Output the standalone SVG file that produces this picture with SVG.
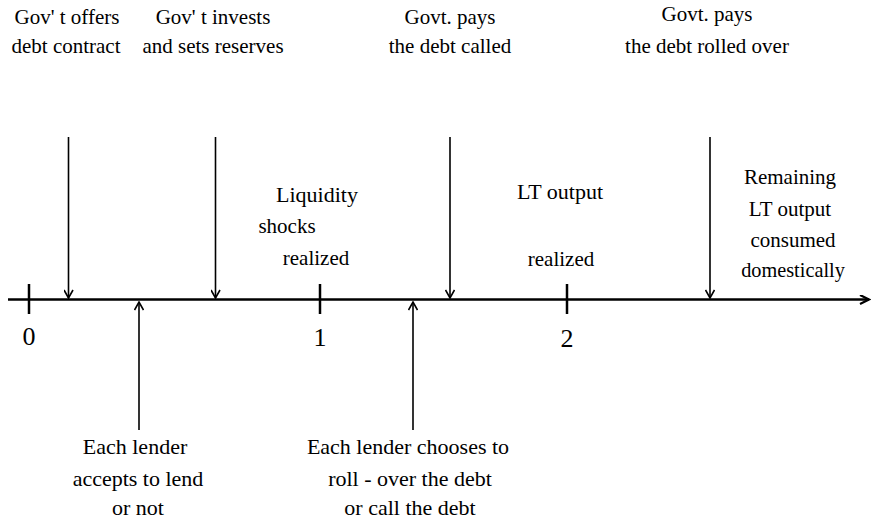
<svg xmlns="http://www.w3.org/2000/svg" width="872" height="521" viewBox="0 0 872 521">
<style>
text{font-family:"Liberation Serif","Times New Roman",serif;font-size:21px;fill:#000;text-anchor:middle}
.num{font-size:26px}
.lg{font-size:22px}
.ax{stroke:#000;stroke-width:2.5;fill:none}
.ar{stroke:#000;stroke-width:1.6;fill:none}
</style>
<defs>
<marker id="v" viewBox="0 0 10 10" refX="9" refY="5" markerWidth="10" markerHeight="10" markerUnits="userSpaceOnUse" orient="auto">
<path d="M1,0.5 L9,5 L1,9.5" fill="none" stroke="#000" stroke-width="1.6"/>
</marker>
<marker id="va" viewBox="0 0 12 10" refX="10" refY="5" markerWidth="12" markerHeight="10" markerUnits="userSpaceOnUse" orient="auto">
<path d="M1,0.5 L10,5 L1,9.5" fill="none" stroke="#000" stroke-width="2.2"/>
</marker>
</defs>
<g id="axis">
<line class="ax" x1="8" y1="299.5" x2="869" y2="299.5" marker-end="url(#va)"/>
<line class="ax" x1="29" y1="284" x2="29" y2="314"/>
<line class="ax" x1="320" y1="284" x2="320" y2="314"/>
<line class="ax" x1="567" y1="284" x2="567" y2="314"/>
<text class="num" x="29" y="345">0</text>
<text class="num" x="320" y="346">1</text>
<text class="num" x="567" y="347">2</text>
</g>
<g id="connectors">
<line class="ar" x1="68.5" y1="137" x2="68.5" y2="298" marker-end="url(#v)"/>
<line class="ar" x1="215.5" y1="137" x2="215.5" y2="298" marker-end="url(#v)"/>
<line class="ar" x1="450" y1="137" x2="450" y2="298" marker-end="url(#v)"/>
<line class="ar" x1="710" y1="137" x2="710" y2="298" marker-end="url(#v)"/>
<line class="ar" x1="139" y1="430" x2="139" y2="302" marker-end="url(#v)"/>
<line class="ar" x1="413" y1="430" x2="413" y2="302" marker-end="url(#v)"/>
</g>
<g id="offer">
<text x="67" y="24">Gov' t offers</text>
<text x="66" y="53">debt contract</text>
</g>
<g id="invest">
<text x="213" y="24">Gov' t invests</text>
<text x="213" y="53">and sets reserves</text>
</g>
<g id="paycalled">
<text x="450" y="24">Govt. pays</text>
<text x="450" y="53">the debt called</text>
</g>
<g id="payrolled">
<text x="707" y="21">Govt. pays</text>
<text x="707" y="53">the debt rolled over</text>
</g>
<g id="liquidity">
<text class="lg" x="317" y="202">Liquidity</text>
<text x="287" y="233">shocks</text>
<text x="316" y="265">realized</text>
</g>
<g id="ltoutput">
<text class="lg" x="560" y="199">LT output</text>
<text x="561" y="266">realized</text>
</g>
<g id="remaining">
<text x="790" y="184">Remaining</text>
<text x="790" y="216">LT output</text>
<text x="793" y="247">consumed</text>
<text x="793" y="277" style="font-size:20.3px">domestically</text>
</g>
<g id="accept" class="lg">
<text class="lg" x="135" y="454">Each lender</text>
<text class="lg" x="138" y="486">accepts to lend</text>
<text class="lg" x="138" y="515">or not</text>
</g>
<g id="rollover">
<text class="lg" x="408" y="454">Each lender chooses to</text>
<text class="lg" x="410" y="486">roll - over the debt</text>
<text class="lg" x="410" y="515">or call the debt</text>
</g>
</svg>
